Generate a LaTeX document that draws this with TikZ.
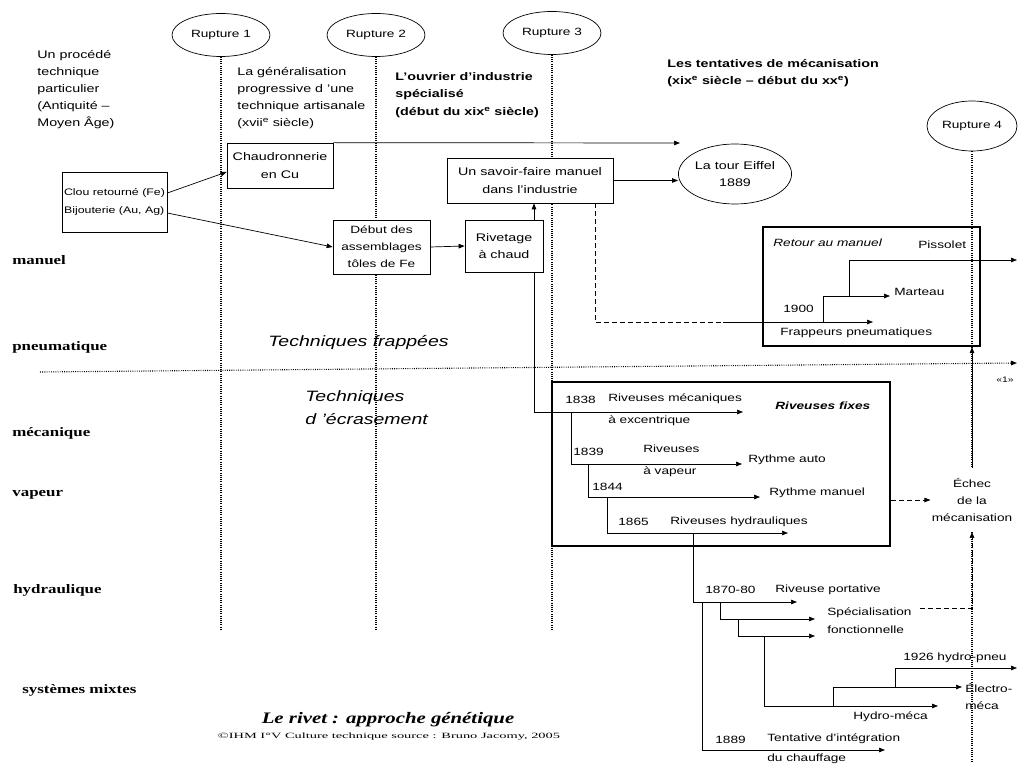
\documentclass[tikz,border=0pt]{standalone}
\usepackage{fontspec}
\setmainfont{Liberation Sans}[FakeStretch=1.3]
\newfontfamily\catfont{Liberation Serif}[FakeStretch=1.3]
\newfontfamily\srcfont{Liberation Serif}[FakeStretch=1.8]
\usetikzlibrary{shapes.geometric,arrows.meta}

\begin{document}
\begin{tikzpicture}[x=1pt,y=-1pt,line width=0.7pt,
    >={Triangle[length=6pt,width=4.5pt]},
    rupt/.style={ellipse,draw,fill=white,minimum width=98pt,minimum height=43pt,inner sep=0pt,font=\fontsize{10.5}{12}\selectfont},
    rline/.style={line width=1.1pt,dash pattern=on 0.9pt off 1.3pt},
    dashln/.style={dash pattern=on 5pt off 3pt},
    txt/.style={anchor=north west,inner sep=0pt,align=left,font=\fontsize{11}{17}\selectfont},
    hdr/.style={anchor=north west,inner sep=0pt,align=left,font=\bfseries\fontsize{11}{17.5}\selectfont},
    procbox/.style={draw,fill=white,inner sep=0pt,align=center,font=\fontsize{11}{17.5}\selectfont},
    fixbox/.style={draw,line width=2.2pt,inner sep=0pt},
    lbl/.style={anchor=west,inner sep=0pt,font=\fontsize{10.5}{17}\selectfont},
    cat/.style={anchor=west,inner sep=0pt,font=\catfont\bfseries\fontsize{13}{15}\selectfont},
    big/.style={anchor=west,inner sep=0pt,align=left,font=\itshape\fontsize{15}{23}\selectfont}]
    \useasboundingbox (0,0) rectangle (1018,767);

    \node[rupt] (r1) at (221,35) {Rupture 1};
    \node[rupt] (r2) at (376,35) {Rupture 2};
    \node[rupt] (r3) at (552,33) {Rupture 3};
    \node[rupt,minimum width=90pt,minimum height=50pt] (r4) at (972,126) {Rupture 4};
    \coordinate (bot) at (0,630);
    \coordinate (bot4) at (0,762);
    \draw[rline] (r1.south) -- (r1.south |- bot);
    \draw[rline] (r2.south) -- (r2.south |- bot);
    \draw[rline] (r3.south) -- (r3.south |- bot);
    \draw[rline] (r4.south) -- (r4.south |- bot4);
    \coordinate (hl) at (40,372);
    \coordinate (hr) at (1017,363);
    \draw[rline,->] (hl) -- (hr);
    \node[inner sep=0pt,font=\fontsize{8}{9}\selectfont] (un) at (1005,380) {«1»};

    \node[txt] (procede) at (37,50) {Un procédé\\technique\\particulier\\(Antiquité –\\Moyen Âge)};
    \node[txt] (general) at (237,67) {La généralisation\\progressive d 'une\\technique artisanale\\(xvii\textsuperscript{e} siècle)};
    \node[hdr] (ouvrier) at (395,72) {L'ouvrier d'industrie\\spécialisé\\(début du xix\textsuperscript{e} siècle)};
    \node[hdr] (tentat) at (667,59) {Les tentatives de mécanisation\\(xix\textsuperscript{e} siècle – début du xx\textsuperscript{e})};

    \node[cat] (manuel) at (12,260) {manuel};
    \node[cat] (pneu) at (12,347) {pneumatique};
    \node[cat] (meca) at (12,433) {mécanique};
    \node[cat] (vap) at (12,495) {vapeur};
    \node[cat] (hydr) at (13,590) {hydraulique};
    \node[cat] (mixt) at (22,690) {systèmes mixtes};
    \node[big] (frap) at (268,343) {Techniques frappées};
    \node[big,anchor=north west] (ecras) at (305,390) {Techniques\\d 'écrasement};

    \node[procbox,minimum width=105pt,minimum height=60pt,align=left,font=\fontsize{9.5}{18}\selectfont] (clou) at (114.5,202) {Clou retourné (Fe)\\Bijouterie (Au, Ag)};
    \node[procbox,minimum width=106pt,minimum height=45pt] (chaud) at (280,165.5) {Chaudronnerie\\en Cu};
    \node[procbox,minimum width=97pt,minimum height=54pt,font=\fontsize{10.5}{17}\selectfont] (debut) at (381.5,247) {Début des\\assemblages\\tôles de Fe};
    \node[procbox,minimum width=78pt,minimum height=52pt] (rivet) at (504,246) {Rivetage\\à chaud};
    \node[procbox,minimum width=166pt,minimum height=45pt] (savoir) at (530,180.5) {Un savoir-faire manuel\\dans l'industrie};
    \node[rupt,minimum width=105pt,minimum height=60pt,align=center,font=\fontsize{11}{17}\selectfont] (eiffel) at (735,174) {La tour Eiffel\\1889};

    \coordinate (chaudend) at (680,143);
    \draw[->] ([yshift=9pt]clou.east) -- ([yshift=-6.5pt]chaud.west);
    \draw[->] ([yshift=-11pt]clou.east) -- (debut.west);
    \draw[->] (chaud.north east) -- (chaudend);
    \draw[->] (debut.east) -- (rivet.west);
    \draw[->] ([xshift=30pt]rivet.north) -- ([xshift=30pt]rivet.north |- savoir.south);
    \draw[->] (savoir.east) -- (savoir.east -| eiffel.west);

    \node[fixbox,minimum width=217pt,minimum height=119pt] (retour) at (871.5,286.5) {};
    \node[lbl,font=\itshape\fontsize{10.5}{12}\selectfont] (retlbl) at (773,243) {Retour au manuel};
    \node[lbl] (piss) at (918,245) {Pissolet};
    \node[lbl] (l1900) at (783,309) {1900};
    \node[lbl] (mart) at (894,292) {Marteau};
    \node[lbl] (frpn) at (780,333) {Frappeurs pneumatiques};
    \coordinate (pn0) at (723,322);
    \coordinate (pn1) at (823,322);
    \coordinate (pn2) at (849,296);
    \coordinate (frapend) at (873,322);
    \coordinate (martend) at (890,296);
    \coordinate (pissend) at (1017,260);
    \draw[dashln] ([xshift=65pt]savoir.south) |- (pn0);
    \draw[->] (pn0) -- (frapend);
    \draw[->] (pn1) |- (martend);
    \draw[->] (pn2) |- (pissend);

    \node[fixbox,minimum width=338pt,minimum height=164pt] (fixes) at (721,464) {};
    \node[lbl,font=\bfseries\itshape\fontsize{10.5}{12}\selectfont] (fixlbl) at (775,406) {Riveuses fixes};
    \node[lbl] (y1838) at (565,400) {1838};
    \node[lbl,align=left,anchor=north west,font=\fontsize{10.5}{22}\selectfont] (rmeca) at (608,393) {Riveuses mécaniques\\à excentrique};
    \node[lbl] (y1839) at (573,452) {1839};
    \node[lbl,align=left,anchor=north west,font=\fontsize{10.5}{22}\selectfont] (rvap) at (643,445) {Riveuses\\à vapeur};
    \node[lbl] (rauto) at (748,460) {Rythme auto};
    \node[lbl] (y1844) at (592,487) {1844};
    \node[lbl] (rman) at (769,493) {Rythme manuel};
    \node[lbl] (y1865) at (618,522) {1865};
    \node[lbl] (rhyd) at (670,522) {Riveuses hydrauliques};
    \node[lbl] (y1870) at (705,590) {1870-80};
    \node[lbl] (rport) at (775,590) {Riveuse portative};
    \node[lbl,align=left,anchor=north west,font=\fontsize{10.5}{18}\selectfont] (spec) at (827,607) {Spécialisation\\fonctionnelle};
    \node[lbl] (y1926) at (903,658) {1926 hydro-pneu};
    \node[lbl,align=left,anchor=north west] (electro) at (965,683) {Électro-\\méca};
    \node[lbl] (hmeca) at (853,717) {Hydro-méca};
    \node[lbl] (y1889) at (715,740) {1889};
    \node[lbl,align=left,anchor=north west,font=\fontsize{10.5}{20}\selectfont] (tent) at (767,733) {Tentative d'intégration\\du chauffage};

    \coordinate (e1838) at (743,412);
    \coordinate (j1839) at (571,412);
    \coordinate (e1839) at (742,464);
    \coordinate (j1844) at (588,464);
    \coordinate (e1844) at (760,497);
    \coordinate (j1865) at (607,497);
    \coordinate (e1865) at (788,533);
    \coordinate (j1870) at (693,533);
    \coordinate (e1870) at (797,602);
    \coordinate (j1889) at (702,602);
    \coordinate (e1889) at (885,750);
    \coordinate (js1) at (720,602);
    \coordinate (es1) at (815,619);
    \coordinate (js2) at (738,619);
    \coordinate (es2) at (815,636);
    \coordinate (jhm) at (764,636);
    \coordinate (ehm) at (938,706);
    \coordinate (jel) at (833,706);
    \coordinate (eel) at (962,687);
    \coordinate (j1926) at (895,687);
    \coordinate (e1926) at (1017,668);
    \draw[->] ([xshift=30pt]rivet.south) |- (e1838);
    \draw[->] (j1839) |- (e1839);
    \draw[->] (j1844) |- (e1844);
    \draw[->] (j1865) |- (e1865);
    \draw[->] (j1870) |- (e1870);
    \draw[->] (j1889) |- (e1889);
    \draw[->] (js1) |- (es1);
    \draw[->] (js2) |- (es2);
    \draw[->] (jhm) |- (ehm);
    \draw[->] (jel) |- (eel);
    \draw[->] (j1926) |- (e1926);

    \node[align=center,fill=white,inner xsep=1pt,inner ysep=10pt,font=\fontsize{10.5}{17}\selectfont] (echec) at (972,500) {Échec\\de la\\mécanisation};
    \coordinate (specd) at (920,608);
    \draw[->] (echec.north) -- (echec.north |- retour.south);
    \draw[dashln,->] (fixes.east |- echec.west) -- (echec.west);
    \draw[dashln,->] (specd) -| (echec.south);

    \node[inner sep=0pt,font=\catfont\bfseries\itshape\fontsize{16}{18}\selectfont] (titre) at (388,720) {Le rivet : approche génétique};
    \node[inner sep=0pt,font=\srcfont\fontsize{8}{9}\selectfont] (source) at (389,737) {©IHM I°V Culture technique source : Bruno Jacomy, 2005};
\end{tikzpicture}
\end{document}
